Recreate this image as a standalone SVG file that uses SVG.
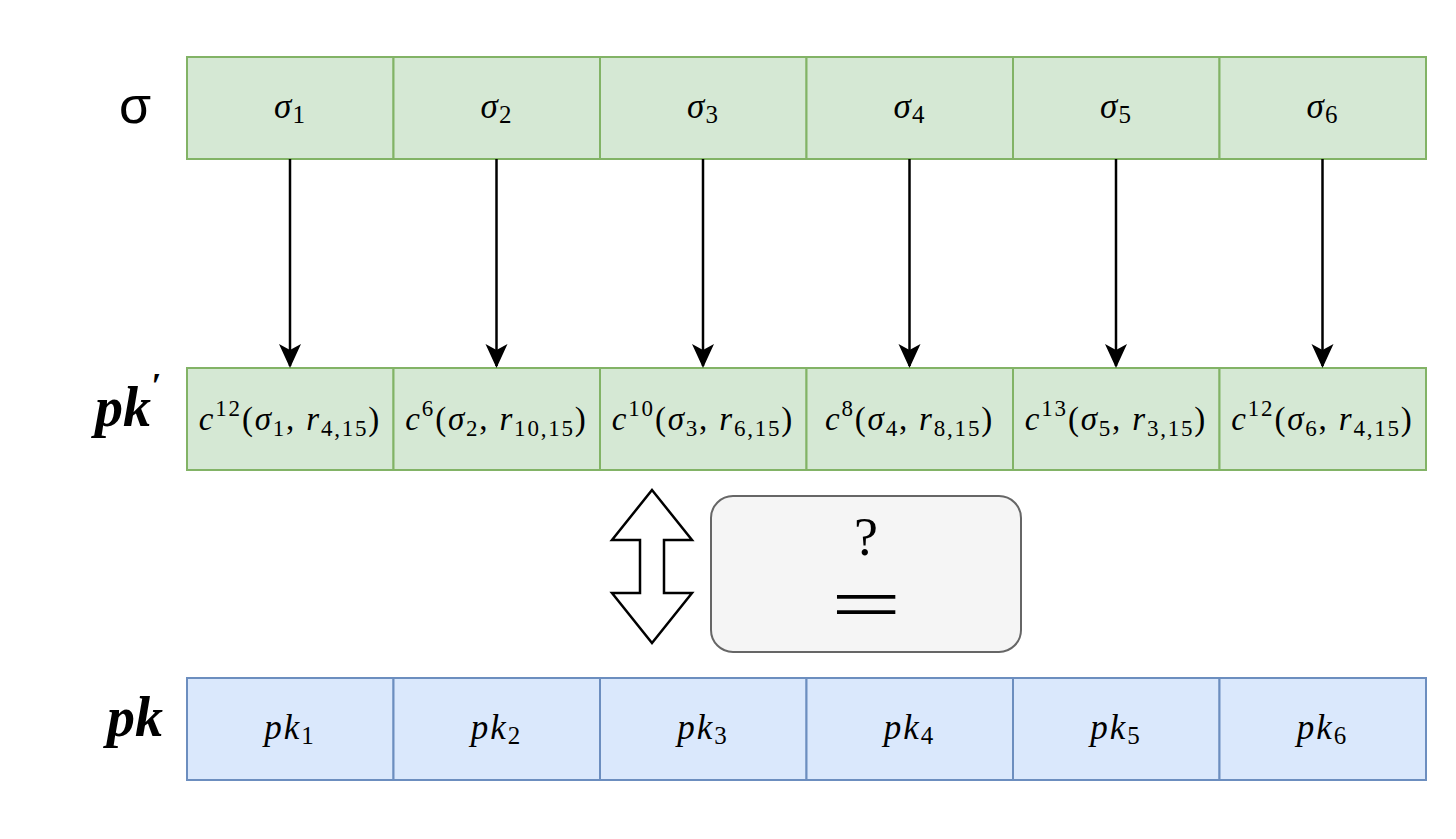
<svg xmlns="http://www.w3.org/2000/svg" width="1456" height="839" viewBox="0 0 1456 839">
<style>
.g{fill:#d5e8d4;stroke:#82b366;stroke-width:2}
.b{fill:#dae8fc;stroke:#6c8ebf;stroke-width:2}
.m{font-family:"Liberation Serif","DejaVu Serif",serif;font-style:italic;font-size:33px;fill:#000;letter-spacing:1.8px}
.m2{font-family:"Liberation Serif","DejaVu Serif",serif;font-style:italic;font-size:35px;fill:#000;letter-spacing:1px}
.m3{font-family:"Liberation Serif","DejaVu Serif",serif;font-style:italic;font-size:35px;fill:#000;letter-spacing:2px}
.n{font-style:normal}
.lbl{font-family:"Liberation Serif","DejaVu Serif",serif;font-style:italic;font-weight:bold;font-size:56px;fill:#000}
.conn{stroke:#000;stroke-width:2.5;fill:none}
</style>
<defs>
<marker id="ah" viewBox="0 0 24 24" refX="22" refY="12" markerWidth="24" markerHeight="24" markerUnits="userSpaceOnUse" orient="auto">
<path d="M0,1 L24,12 L0,23 L6,12 Z" fill="#000"/>
</marker>
</defs>
<rect width="1456" height="839" fill="#fff"/>
<g id="labels">
<text x="135" y="123" text-anchor="middle" font-family="Liberation Sans, Arial, sans-serif" font-size="52">σ</text>
<text x="128" y="426" text-anchor="middle" class="lbl">pk<tspan font-size="36" dy="-28">′</tspan></text>
<text x="135" y="736" text-anchor="middle" class="lbl">pk</text>
</g>
<g id="sigma-row">
<rect class="g" x="187" y="57" width="206.5" height="102"/>
<rect class="g" x="393.5" y="57" width="206.5" height="102"/>
<rect class="g" x="600" y="57" width="206.5" height="102"/>
<rect class="g" x="806.5" y="57" width="206.5" height="102"/>
<rect class="g" x="1013" y="57" width="206.5" height="102"/>
<rect class="g" x="1219.5" y="57" width="206.5" height="102"/>
<text class="m2" x="290" y="118" text-anchor="middle">σ<tspan class="n" font-size="25" dy="5">1</tspan></text>
<text class="m2" x="496.5" y="118" text-anchor="middle">σ<tspan class="n" font-size="25" dy="5">2</tspan></text>
<text class="m2" x="703" y="118" text-anchor="middle">σ<tspan class="n" font-size="25" dy="5">3</tspan></text>
<text class="m2" x="909.5" y="118" text-anchor="middle">σ<tspan class="n" font-size="25" dy="5">4</tspan></text>
<text class="m2" x="1116" y="118" text-anchor="middle">σ<tspan class="n" font-size="25" dy="5">5</tspan></text>
<text class="m2" x="1322.5" y="118" text-anchor="middle">σ<tspan class="n" font-size="25" dy="5">6</tspan></text>
</g>
<g id="pkprime-row">
<rect class="g" x="187" y="368" width="206.5" height="102"/>
<rect class="g" x="393.5" y="368" width="206.5" height="102"/>
<rect class="g" x="600" y="368" width="206.5" height="102"/>
<rect class="g" x="806.5" y="368" width="206.5" height="102"/>
<rect class="g" x="1013" y="368" width="206.5" height="102"/>
<rect class="g" x="1219.5" y="368" width="206.5" height="102"/>
<text class="m" x="290" y="430" text-anchor="middle">c<tspan class="n" font-size="23" dy="-14">12</tspan><tspan class="n" dy="14">(</tspan>σ<tspan class="n" font-size="23" dy="6">1</tspan><tspan class="n" dy="-6">, </tspan>r<tspan class="n" font-size="23" dy="6">4,15</tspan><tspan class="n" dy="-6">)</tspan></text>
<text class="m" x="496.5" y="430" text-anchor="middle">c<tspan class="n" font-size="23" dy="-14">6</tspan><tspan class="n" dy="14">(</tspan>σ<tspan class="n" font-size="23" dy="6">2</tspan><tspan class="n" dy="-6">, </tspan>r<tspan class="n" font-size="23" dy="6">10,15</tspan><tspan class="n" dy="-6">)</tspan></text>
<text class="m" x="703" y="430" text-anchor="middle">c<tspan class="n" font-size="23" dy="-14">10</tspan><tspan class="n" dy="14">(</tspan>σ<tspan class="n" font-size="23" dy="6">3</tspan><tspan class="n" dy="-6">, </tspan>r<tspan class="n" font-size="23" dy="6">6,15</tspan><tspan class="n" dy="-6">)</tspan></text>
<text class="m" x="909.5" y="430" text-anchor="middle">c<tspan class="n" font-size="23" dy="-14">8</tspan><tspan class="n" dy="14">(</tspan>σ<tspan class="n" font-size="23" dy="6">4</tspan><tspan class="n" dy="-6">, </tspan>r<tspan class="n" font-size="23" dy="6">8,15</tspan><tspan class="n" dy="-6">)</tspan></text>
<text class="m" x="1116" y="430" text-anchor="middle">c<tspan class="n" font-size="23" dy="-14">13</tspan><tspan class="n" dy="14">(</tspan>σ<tspan class="n" font-size="23" dy="6">5</tspan><tspan class="n" dy="-6">, </tspan>r<tspan class="n" font-size="23" dy="6">3,15</tspan><tspan class="n" dy="-6">)</tspan></text>
<text class="m" x="1322.5" y="430" text-anchor="middle">c<tspan class="n" font-size="23" dy="-14">12</tspan><tspan class="n" dy="14">(</tspan>σ<tspan class="n" font-size="23" dy="6">6</tspan><tspan class="n" dy="-6">, </tspan>r<tspan class="n" font-size="23" dy="6">4,15</tspan><tspan class="n" dy="-6">)</tspan></text>
</g>
<g id="pk-row">
<rect class="b" x="187" y="678" width="206.5" height="102"/>
<rect class="b" x="393.5" y="678" width="206.5" height="102"/>
<rect class="b" x="600" y="678" width="206.5" height="102"/>
<rect class="b" x="806.5" y="678" width="206.5" height="102"/>
<rect class="b" x="1013" y="678" width="206.5" height="102"/>
<rect class="b" x="1219.5" y="678" width="206.5" height="102"/>
<text class="m3" x="290" y="739" text-anchor="middle">pk<tspan class="n" font-size="25" dy="5">1</tspan></text>
<text class="m3" x="496.5" y="739" text-anchor="middle">pk<tspan class="n" font-size="25" dy="5">2</tspan></text>
<text class="m3" x="703" y="739" text-anchor="middle">pk<tspan class="n" font-size="25" dy="5">3</tspan></text>
<text class="m3" x="909.5" y="739" text-anchor="middle">pk<tspan class="n" font-size="25" dy="5">4</tspan></text>
<text class="m3" x="1116" y="739" text-anchor="middle">pk<tspan class="n" font-size="25" dy="5">5</tspan></text>
<text class="m3" x="1322.5" y="739" text-anchor="middle">pk<tspan class="n" font-size="25" dy="5">6</tspan></text>
</g>
<g id="connectors">
<line class="conn" x1="290" y1="159" x2="290" y2="366" marker-end="url(#ah)"/>
<line class="conn" x1="496.5" y1="159" x2="496.5" y2="366" marker-end="url(#ah)"/>
<line class="conn" x1="703" y1="159" x2="703" y2="366" marker-end="url(#ah)"/>
<line class="conn" x1="909.5" y1="159" x2="909.5" y2="366" marker-end="url(#ah)"/>
<line class="conn" x1="1116" y1="159" x2="1116" y2="366" marker-end="url(#ah)"/>
<line class="conn" x1="1322.5" y1="159" x2="1322.5" y2="366" marker-end="url(#ah)"/>
</g>
<g id="double-arrow">
<path d="M652,490 L692,540 L664,540 L664,593 L692,593 L652,643 L612,593 L640,593 L640,540 L612,540 Z" fill="#fff" stroke="#000" stroke-width="2.5" stroke-linejoin="miter"/>
</g>
<g id="compare-box">
<rect x="711" y="496" width="310" height="156" rx="22" ry="22" fill="#f5f5f5" stroke="#666666" stroke-width="2"/>
<text x="866" y="555" text-anchor="middle" font-family="Liberation Serif, DejaVu Serif, serif" font-size="54">?</text>
<text transform="translate(866,630) scale(1.65,1)" text-anchor="middle" font-family="Liberation Serif, DejaVu Serif, serif" font-size="76">=</text>
</g>
</svg>
